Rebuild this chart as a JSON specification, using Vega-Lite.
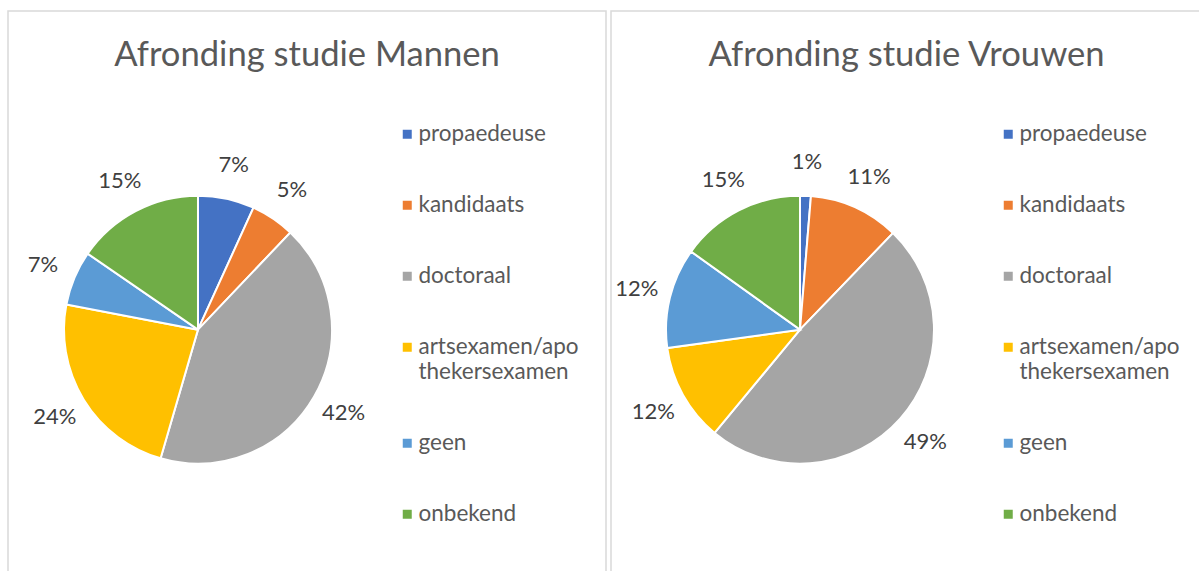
{
  "$schema": "https://vega.github.io/schema/vega-lite/v6.json",
  "padding": {"left": 7, "top": 10, "right": 0, "bottom": 0},
  "background": "white",
  "spacing": 3,
  "datasets": {
    "mannen": [
      {"idx": 1, "category": "propaedeuse", "value": 0.068},
      {"idx": 2, "category": "kandidaats", "value": 0.053},
      {"idx": 3, "category": "doctoraal", "value": 0.424},
      {"idx": 4, "category": "artsexamen/apothekersexamen", "value": 0.235},
      {"idx": 5, "category": "geen", "value": 0.066},
      {"idx": 6, "category": "onbekend", "value": 0.154}
    ],
    "vrouwen": [
      {"idx": 1, "category": "propaedeuse", "value": 0.013},
      {"idx": 2, "category": "kandidaats", "value": 0.109},
      {"idx": 3, "category": "doctoraal", "value": 0.488},
      {"idx": 4, "category": "artsexamen/apothekersexamen", "value": 0.118},
      {"idx": 5, "category": "geen", "value": 0.121},
      {"idx": 6, "category": "onbekend", "value": 0.151}
    ]
  },
  "config": {
    "view": {"stroke": "#d9d9d9", "strokeWidth": 1.5},
    "font": "Lato",
    "title": {"fontSize": 34.6, "fontWeight": "normal", "color": "#595959", "font": "Lato"},
    "legend": {
      "orient": "none",
      "legendX": 388,
      "legendY": 112,
      "title": null,
      "symbolType": "square",
      "symbolSize": 81,
      "symbolStrokeWidth": 0,
      "labelFontSize": 22.5,
      "labelFont": "Lato",
      "labelColor": "#595959",
      "labelOffset": 0,
      "labelLimit": 300,
      "rowPadding": 48,
      "padding": 0
    }
  },
  "resolve": {"legend": {"color": "independent"}},
  "hconcat": [
    {
      "width": 598,
      "height": 561,
      "title": {"text": "Afronding studie Mannen", "anchor": "middle", "frame": "group", "baseline": "alphabetic", "offset": -90},
      "data": {"name": "mannen"},
      "encoding": {
        "x": {"datum": 0.3177, "type": "quantitative", "scale": {"domain": [0, 1]}, "axis": null},
        "y": {"datum": 0.568, "type": "quantitative", "scale": {"domain": [0, 1], "reverse": true}, "axis": null},
        "theta": {"field": "value", "type": "quantitative", "stack": true},
        "order": {"field": "idx", "type": "quantitative"}
      },
      "layer": [
        {
          "mark": {"type": "arc", "outerRadius": 134, "stroke": "white", "strokeWidth": 2},
          "encoding": {
            "color": {
              "field": "category", "type": "nominal",
              "scale": {"domain": ["propaedeuse", "kandidaats", "doctoraal", "artsexamen/apothekersexamen", "geen", "onbekend"],
                        "range": ["#4472C4", "#ED7D31", "#A5A5A5", "#FFC000", "#5B9BD5", "#70AD47"]},
              "legend": {"labelExpr": "datum.label == 'artsexamen/apothekersexamen' ? ['artsexamen/apo', 'thekersexamen'] : datum.label"}
            }
          }
        },
        {
          "mark": {"type": "text", "radius": 168, "fontSize": 22, "fill": "#404040", "font": "Lato"},
          "encoding": {"text": {"field": "value", "type": "quantitative", "format": ".0%"}}
        }
      ]
    },
    {
      "width": 591,
      "height": 561,
      "title": {"text": "Afronding studie Vrouwen", "anchor": "middle", "frame": "group", "baseline": "alphabetic", "offset": -90},
      "data": {"name": "vrouwen"},
      "encoding": {
        "x": {"datum": 0.3198, "type": "quantitative", "scale": {"domain": [0, 1]}, "axis": null},
        "y": {"datum": 0.568, "type": "quantitative", "scale": {"domain": [0, 1], "reverse": true}, "axis": null},
        "theta": {"field": "value", "type": "quantitative", "stack": true},
        "order": {"field": "idx", "type": "quantitative"}
      },
      "layer": [
        {
          "mark": {"type": "arc", "outerRadius": 134, "stroke": "white", "strokeWidth": 2},
          "encoding": {
            "color": {
              "field": "category", "type": "nominal",
              "scale": {"domain": ["propaedeuse", "kandidaats", "doctoraal", "artsexamen/apothekersexamen", "geen", "onbekend"],
                        "range": ["#4472C4", "#ED7D31", "#A5A5A5", "#FFC000", "#5B9BD5", "#70AD47"]},
              "legend": {"legendX": 386, "labelExpr": "datum.label == 'artsexamen/apothekersexamen' ? ['artsexamen/apo', 'thekersexamen'] : datum.label"}
            }
          }
        },
        {
          "mark": {"type": "text", "radius": 168, "fontSize": 22, "fill": "#404040", "font": "Lato"},
          "encoding": {"text": {"field": "value", "type": "quantitative", "format": ".0%"}}
        }
      ]
    }
  ]
}
